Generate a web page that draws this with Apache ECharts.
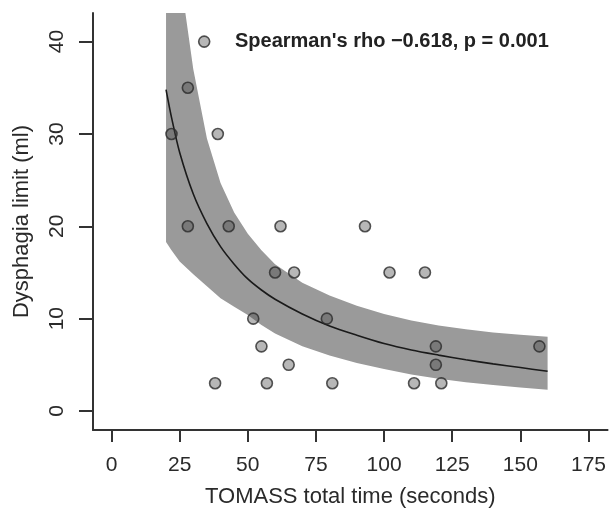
<!DOCTYPE html>
<html>
<head>
<meta charset="utf-8">
<script src="https://cdn.jsdelivr.net/npm/echarts@6/dist/echarts.min.js"></script>
<style>
html,body{margin:0;padding:0;background:#fff;}
#chart{width:609px;height:515px;}
</style>
</head>
<body>
<div id="chart"></div>
<script>
// Observed data points (TOMASS total time in seconds, dysphagia limit in ml)
const timeSec = [22, 28, 28, 34, 39, 43, 62, 60, 67, 52, 79, 55, 65, 38, 57, 81, 93, 102, 115, 119, 119, 157, 111, 121];
const dysphagiaMl = [30, 35, 20, 40, 30, 20, 20, 15, 15, 10, 10, 7, 5, 3, 3, 3, 20, 15, 15, 7, 5, 7, 3, 3];

// Fitted curve and confidence band
const fitX   = [20, 22, 25, 30, 35, 40, 45, 50, 55, 60, 70, 80, 90, 100, 110, 120, 130, 140, 150, 160];
const fitY   = [34.8, 31.8, 28.0, 23.5, 20.3, 17.8, 15.9, 14.3, 13.1, 12.1, 10.5, 9.2, 8.2, 7.3, 6.6, 6.05, 5.55, 5.1, 4.7, 4.3];
const upperY = [63, 56, 47.5, 37, 29.5, 24.7, 21.5, 19.2, 17.4, 15.9, 13.9, 12.5, 11.4, 10.5, 9.8, 9.25, 8.85, 8.5, 8.25, 8.05];
const lowerY = [18.3, 17.4, 16.2, 14.8, 13.5, 12.2, 11.3, 10.4, 9.3, 8.4, 7.0, 6.0, 5.2, 4.55, 3.95, 3.5, 3.1, 2.8, 2.55, 2.3];

// Tick labels
const xTicks = [0, 25, 50, 75, 100, 125, 150, 175];
const yTicks = [0, 10, 20, 30, 40];

const xTitle = 'TOMASS total time (seconds)';
const yTitle = 'Dysphagia limit (ml)';
const annotation = "Spearman's rho \u22120.618, p = 0.001";

const FONT = '"Liberation Sans", Arial, Helvetica, sans-serif';

const chart = echarts.init(document.getElementById('chart'), null, {renderer: 'canvas'});

const scatterData = timeSec.map((t, i) => [t, dysphagiaMl[i]]);
const fitData = fitX.map((x, i) => [x, fitY[i]]);

function renderBand(params, api) {
  if (params.dataIndex !== 0) return null;
  const pts = [];
  for (let i = 0; i < fitX.length; i++) pts.push(api.coord([fitX[i], upperY[i]]));
  for (let i = fitX.length - 1; i >= 0; i--) pts.push(api.coord([fitX[i], lowerY[i]]));
  const cs = params.coordSys;
  return {
    type: 'polygon',
    shape: {points: pts},
    style: {fill: '#9a9a9a', stroke: null},
    clipPath: {
      type: 'rect',
      shape: {x: cs.x, y: cs.y, width: cs.width, height: cs.height}
    },
    silent: true
  };
}

const option = {
  animation: false,
  backgroundColor: '#ffffff',
  grid: {left: 93, top: 13, right: 0, bottom: 85, containLabel: false},
  xAxis: {
    type: 'value',
    min: -6.8,
    max: 182,
    splitLine: {show: false},
    axisLine: {show: true, onZero: false, lineStyle: {color: '#333', width: 2}},
    axisTick: {show: true, length: 12, lineStyle: {color: '#333', width: 2}, customValues: xTicks},
    axisLabel: {show: true, customValues: xTicks, margin: 25, fontSize: 21, color: '#2a2a2a', fontFamily: FONT},
    name: xTitle,
    nameLocation: 'middle',
    nameGap: 56,
    nameTextStyle: {fontSize: 22, color: '#2a2a2a', fontFamily: FONT}
  },
  yAxis: {
    type: 'value',
    min: -2.06,
    max: 43.1,
    splitLine: {show: false},
    axisLine: {show: true, onZero: false, lineStyle: {color: '#333', width: 2}},
    axisTick: {show: true, length: 14, lineStyle: {color: '#333', width: 2}, customValues: yTicks},
    axisLabel: {show: true, customValues: yTicks, rotate: 90, margin: 25, fontSize: 21, color: '#2a2a2a', fontFamily: FONT},
    name: yTitle,
    nameLocation: 'middle',
    nameRotate: 90,
    nameGap: 60,
    nameTextStyle: {fontSize: 22, color: '#2a2a2a', fontFamily: FONT}
  },
  graphic: [{
    type: 'text',
    x: 235,
    y: 41,
    z: 100,
    style: {
      text: annotation,
      font: 'bold 20px ' + FONT,
      fill: '#222',
      verticalAlign: 'middle',
      align: 'left'
    }
  }],
  series: [
    {
      type: 'custom',
      renderItem: renderBand,
      data: [[fitX[0], fitY[0]]],
      encode: {x: 0, y: 1},
      silent: true,
      z: 1
    },
    {
      type: 'line',
      data: fitData,
      smooth: 0.3,
      symbol: 'none',
      lineStyle: {color: '#1a1a1a', width: 1.6},
      clip: true,
      silent: true,
      z: 2
    },
    {
      type: 'scatter',
      data: scatterData,
      symbol: 'circle',
      symbolSize: 11,
      itemStyle: {color: 'rgba(68,68,68,0.48)', borderColor: '#2b2b2b', borderWidth: 1.6},
      z: 3
    }
  ]
};
chart.setOption(option);
</script>
</body>
</html>
